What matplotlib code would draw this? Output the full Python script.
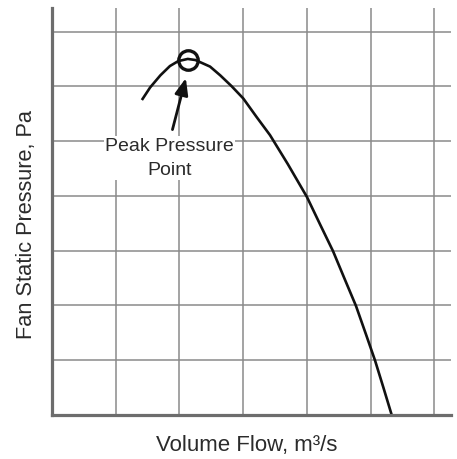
import matplotlib.pyplot as plt

# fan curve, read in grid units (one unit per grid square)
flow = [1.41, 1.54, 1.70, 1.85, 1.98, 2.13, 2.25, 2.48, 2.64, 2.82, 3.00,
        3.21, 3.42, 3.70, 4.00, 4.21, 4.41, 4.60, 4.77, 4.93, 5.07, 5.20, 5.33]
pressure = [5.75, 5.98, 6.20, 6.37, 6.46, 6.50, 6.48, 6.36, 6.20, 6.00, 5.78,
            5.44, 5.11, 4.58, 3.98, 3.47, 2.99, 2.46, 1.99, 1.46, 0.99, 0.50, 0.0]
peak_flow = 2.13
peak_pressure = 6.48
x_grid = [1, 2, 3, 4, 5, 6]
y_grid = [1, 2, 3, 4, 5, 6, 7]

plt.rcParams['font.family'] = ['Liberation Sans', 'DejaVu Sans']

fig = plt.figure(figsize=(4.57, 4.59), dpi=100)
ax = fig.add_axes([0.1138, 0.0959, 0.873, 0.8867])
ax.set_xlim(0, 6.26)
ax.set_ylim(0, 7.43)

ax.set_xticks(x_grid)
ax.set_yticks(y_grid)
ax.tick_params(length=0, labelbottom=False, labelleft=False)
ax.grid(True, color='#8a8a8a', linewidth=1.1)
ax.set_axisbelow(True)

for side in ['top', 'right']:
    ax.spines[side].set_visible(False)
for side in ['left', 'bottom']:
    ax.spines[side].set_color('#6d6d6d')
    ax.spines[side].set_linewidth(2.3)
    ax.spines[side].set_zorder(4)

ax.plot(flow, pressure, color='#111111', linewidth=1.9, zorder=3,
        solid_capstyle='butt', solid_joinstyle='round')
ax.plot([peak_flow], [peak_pressure], 'o', markersize=14,
        markerfacecolor='none', markeredgecolor='#111111',
        markeredgewidth=2.4, zorder=5)

ax.annotate('', xy=(peak_flow - 0.03, peak_pressure - 0.33),
            xytext=(1.89, 5.21),
            arrowprops=dict(arrowstyle='-|>,head_length=1.0,head_width=0.4',
                            color='#111111', lw=2.0, shrinkA=0, shrinkB=0),
            zorder=5)
ax.text(1.84, 4.69, 'Peak Pressure\nPoint', ha='center', va='center',
        fontsize=14, color='#2b2b2b', linespacing=1.55, zorder=6,
        bbox=dict(facecolor='white', edgecolor='none', pad=1.0))

ax.set_xlabel('Volume Flow, m³/s', fontsize=16, color='#2b2b2b')
ax.set_ylabel('Fan Static Pressure, Pa', fontsize=15.7, color='#2b2b2b')
ax.xaxis.set_label_coords(0.489, -0.074)
ax.yaxis.set_label_coords(-0.065, 0.467)
ax.xaxis.label.set_va('center')
ax.yaxis.label.set_va('center')

fig.savefig('out.png', dpi=100)
